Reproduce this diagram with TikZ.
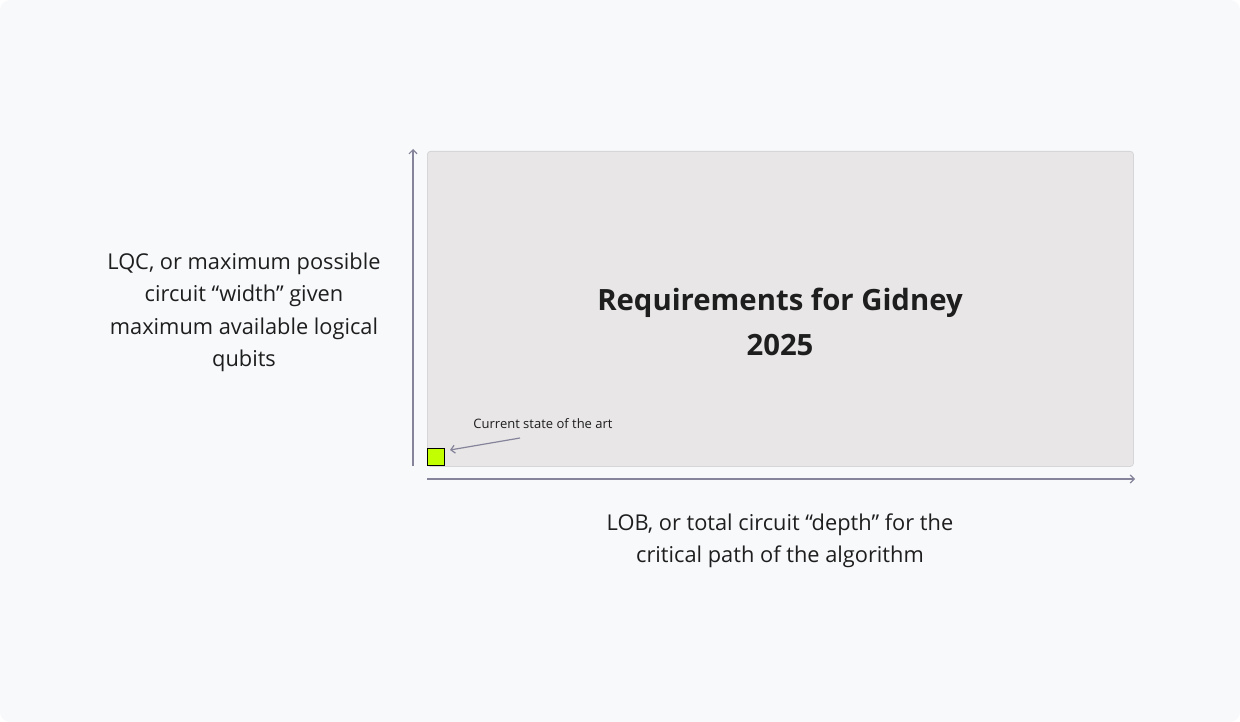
\documentclass[tikz,border=0pt]{standalone}
\usepackage{fontspec}
\setmainfont{Open Sans}
\usetikzlibrary{arrows.meta}
\definecolor{bgc}{HTML}{F8F9FB}
\definecolor{boxc}{HTML}{E8E6E7}
\definecolor{boxl}{HTML}{D6D6D9}
\definecolor{axc}{HTML}{85849A}
\definecolor{greenc}{HTML}{C2FF00}
\definecolor{txt}{HTML}{1E1E1E}
\tikzset{
  axis/.style={draw=axc, line width=1.2pt, -{Straight Barb[length=4pt,width=8pt,line width=1.2pt]}},
  lbl/.style={text=txt, align=center, font=\fontsize{21.8}{32.4}\selectfont},
}
\begin{document}
\begin{tikzpicture}[x=1pt,y=-1pt]
\useasboundingbox (0,0) rectangle (1240,722);
\fill[bgc, rounded corners=10pt] (0,0) rectangle (1240,722);
\node[draw=boxl, fill=boxc, rounded corners=3pt, line width=0.8pt, minimum width=706pt, minimum height=315pt, inner sep=0pt, anchor=north west] (box) at (427,151) {};
\coordinate (vs) at (413,466);
\coordinate (ve) at (413,149);
\coordinate (hs) at (427,479);
\coordinate (he) at (1135,479);
\draw[axis] (vs) -- (ve);
\draw[axis] (hs) -- (he);
\node[draw=black, fill=greenc, line width=0.8pt, minimum size=17pt, inner sep=0pt, anchor=south west] (sq) at (427,466) {};
\node[text=txt, font=\fontsize{13}{15}\selectfont, inner sep=0pt] (cur) at (543,424) {Current state of the art};
\coordinate (ann) at (520,438);
\coordinate (annend) at (450,450);
\draw[axis] (ann) -- (annend);
\node[text=txt, align=center, font=\fontsize{29.3}{45.5}\selectfont\bfseries] (title) at (780,322) {Requirements for Gidney\\2025};
\node[lbl] (left) at (244,312.5) {LQC, or maximum possible\\circuit “width” given\\maximum available logical\\qubits};
\node[lbl] (bottom) at (780,541) {LOB, or total circuit “depth” for the\\critical path of the algorithm};
\end{tikzpicture}
\end{document}
